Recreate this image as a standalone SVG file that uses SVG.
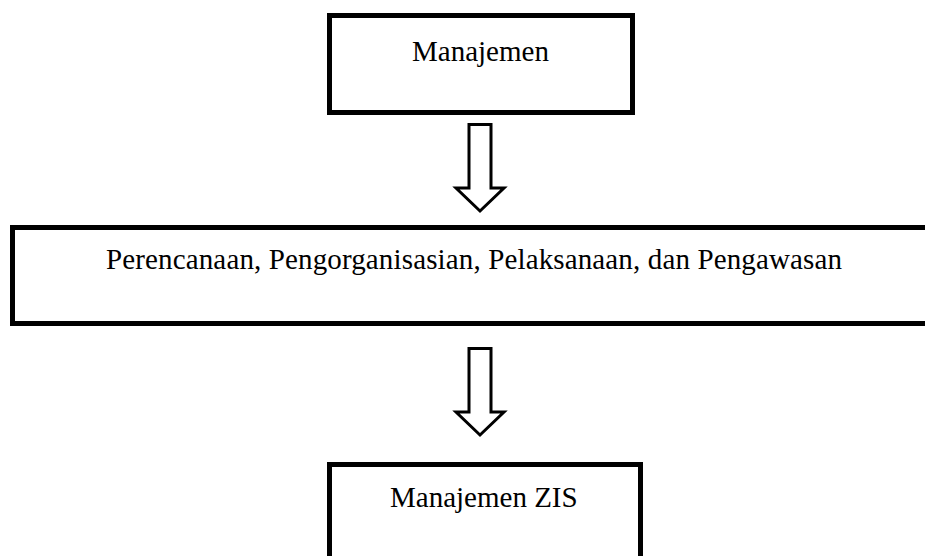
<svg xmlns="http://www.w3.org/2000/svg" width="925" height="556" viewBox="0 0 925 556">
<style>
.box{fill:#fff;stroke:#000;stroke-width:5}
.arr{fill:#fff;stroke:#000;stroke-width:3;stroke-linejoin:miter}
.t{font-family:"Liberation Serif","Times New Roman",serif;font-size:29px;fill:#000}
</style>
<rect width="925" height="556" fill="#fff"/>
<g id="connectors">
<path class="arr" d="M469,124.5 H491 V188 H504 L480,211 L456,188 H469 Z"/>
<path class="arr" d="M469,348.5 H491 V412 H504 L480,435 L456,412 H469 Z"/>
</g>
<g id="node-manajemen">
<rect class="box" x="329.5" y="15.5" width="303" height="97"/>
<text class="t" x="412" y="61">Manajemen</text>
</g>
<g id="node-fungsi">
<rect class="box" x="12.5" y="227.5" width="930" height="96"/>
<text class="t" x="106" y="269" textLength="736" lengthAdjust="spacing">Perencanaan, Pengorganisasian, Pelaksanaan, dan Pengawasan</text>
</g>
<g id="node-zis">
<rect class="box" x="329.5" y="464.5" width="311" height="120"/>
<text class="t" x="390" y="507">Manajemen ZIS</text>
</g>
</svg>
